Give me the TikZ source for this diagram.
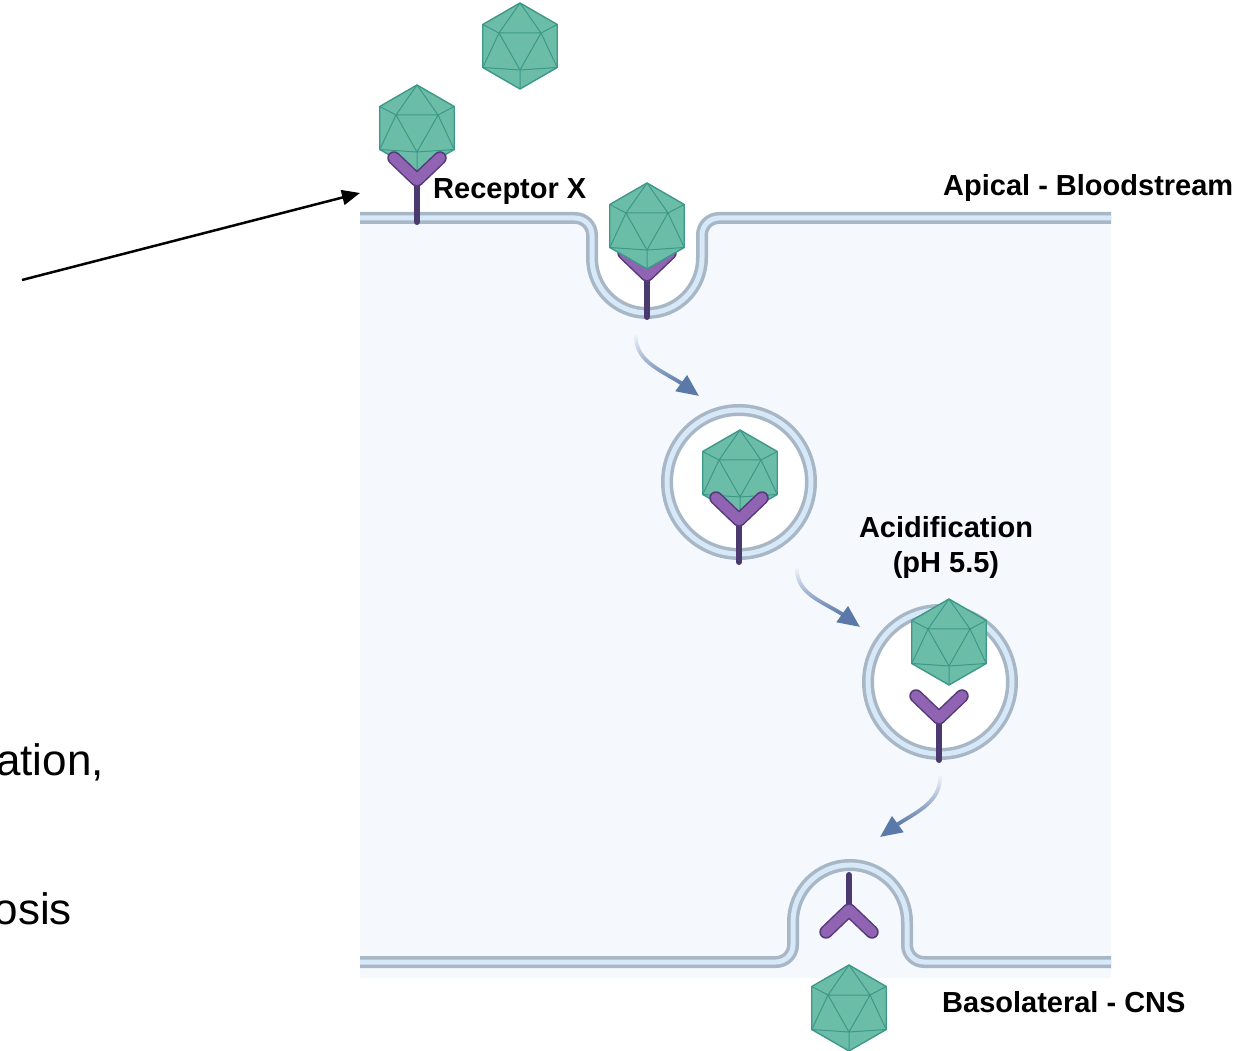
\documentclass[tikz,border=0pt]{standalone}
\usepackage{fontspec}
\setmainfont{Liberation Sans}
\usetikzlibrary{arrows.meta,fadings}

\definecolor{cellfill}{HTML}{F5F9FE}
\definecolor{memline}{HTML}{A8B7C6}
\definecolor{memband}{HTML}{D7E8F8}
\definecolor{capsid}{HTML}{6CBDA8}
\definecolor{capsidedge}{HTML}{3C9888}
\definecolor{armfill}{HTML}{9163B3}
\definecolor{armedge}{HTML}{553A7A}
\definecolor{stemcol}{HTML}{4A3A70}
\definecolor{flow}{HTML}{5A79A9}

% tail of the transport arrows fades out
\tikzfading[name=tailfade, top color=transparent!100, middle color=transparent!5, bottom color=transparent!0]

\tikzset{
  membrane/.style={line width=12pt, draw=memline, postaction={draw=memband, line width=5pt}},
  lbl/.style={font=\fontsize{29}{35}\selectfont\bfseries, inner sep=0pt, text=black},
  sidetext/.style={font=\fontsize{44}{50}\selectfont, inner sep=0pt, text=black},
  flowline/.style={draw=flow, line width=3.8pt, path fading=tailfade},
  flowtip/.style={draw=flow, line width=3.8pt, -{Triangle[length=22pt,width=19pt]}},
  pointer/.style={draw=black, line width=2.5pt, -{Triangle[length=18pt,width=15pt]}},
  virus/.pic={
    \path[fill=capsid, draw=capsidedge, line width=1.4pt, line join=round]
      (0,43) -- (37.24,21.5) -- (37.24,-21.5) -- (0,-43) -- (-37.24,-21.5) -- (-37.24,21.5) -- cycle;
    \draw[capsidedge, line width=1pt, line join=round]
      (-21,13) -- (21,13) -- (0,-24) -- cycle
      (0,43) -- (-21,13) (0,43) -- (21,13)
      (-37.24,21.5) -- (-21,13) (37.24,21.5) -- (21,13)
      (-37.24,-21.5) -- (-21,13) (37.24,-21.5) -- (21,13)
      (-37.24,-21.5) -- (0,-24) (37.24,-21.5) -- (0,-24)
      (0,-43) -- (0,-24);
  },
  receptor/.pic={
    \draw[stemcol, line width=6pt, line cap=round] (0,0) -- (0,-#1);
    \draw[armedge, line width=13.5pt, line cap=round, line join=round] (-23,22) -- (0,0) -- (23,22);
    \draw[armfill, line width=10.5pt, line cap=round, line join=round] (-23,22) -- (0,0) -- (23,22);
  }
}

\begin{document}
\begin{tikzpicture}[x=1pt,y=1pt]
\useasboundingbox (0,0) rectangle (1245,1050);
\fill[white] (0,0) rectangle (1245,1050);

% cytoplasm between the two membranes
\fill[cellfill] (360,832) -- (575,832) to[out=0,in=90] (592,815) -- (592,792)
  arc[start angle=180,end angle=360,radius=55] -- (702,815) to[out=90,in=180] (719,832)
  -- (1111,832) -- (1111,72) -- (360,72) -- cycle;

% apical membrane with invagination
\draw[membrane] (360,832) -- (575,832) to[out=0,in=90] (592,815) -- (592,792)
  arc[start angle=180,end angle=360,radius=55] -- (702,815) to[out=90,in=180] (719,832) -- (1111,832);

% basolateral membrane with fusion dome
\draw[membrane] (360,88) -- (776,88) to[out=0,in=-90] (793,105) -- (793,128)
  arc[start angle=180,end angle=0,radius=57] -- (907,105) to[out=-90,in=180] (924,88) -- (1111,88);

% endocytic vesicles
\draw[membrane, fill=white] (739,568) circle[radius=72];
\draw[membrane, fill=white] (940,368) circle[radius=72];

% transport arrows
\coordinate (a1s) at (636,715); \coordinate (a1b) at (681,667); \coordinate (a1e) at (699,654);
\coordinate (a2s) at (797,482); \coordinate (a2b) at (842,436); \coordinate (a2e) at (860,423);
\coordinate (a3s) at (940,274); \coordinate (a3b) at (898,226); \coordinate (a3e) at (880,213);
\draw[flowline] (a1s) to[out=-92,in=148] (a1b);
\draw[flowtip] (a1b) -- (a1e);
\draw[flowline] (a2s) to[out=-92,in=148] (a2b);
\draw[flowtip] (a2b) -- (a2e);
\draw[flowline] (a3s) to[out=-88,in=32] (a3b);
\draw[flowtip] (a3b) -- (a3e);

% virus particles and receptors
\pic at (520,1004) {virus};
\pic at (417,922) {virus};
\pic at (417,870) {receptor=42};
\pic at (647,775) {receptor=42};
\pic at (647,824) {virus};
\pic at (740,577) {virus};
\pic at (739,530) {receptor=42};
\pic at (939,332) {receptor=42};
\pic at (949,408) {virus};
\pic[rotate=180] at (849,140) {receptor=35};
\pic at (849,42) {virus};

% labels
\node[lbl, anchor=base west] (recx) at (433,851) {Receptor X};
\node[lbl, anchor=base west] (apical) at (943,854) {Apical - Bloodstream};
\node[lbl, align=center] (acid) at (946,502) {Acidification\\(pH 5.5)};
\node[lbl, anchor=base west] (baso) at (942,38) {Basolateral - CNS};
\node[sidetext, anchor=base east] (side1) at (104,274) {ation,};
\node[sidetext, anchor=base east] (side2) at (72,125) {osis};

% pointer to the receptor site
\coordinate (ptail) at (22,770);
\coordinate (phead) at (360,857);
\draw[pointer] (ptail) -- (phead);
\end{tikzpicture}
\end{document}
